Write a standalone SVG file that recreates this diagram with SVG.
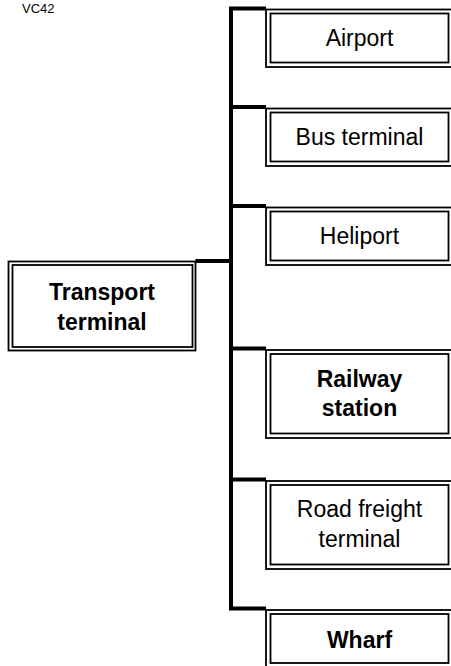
<svg xmlns="http://www.w3.org/2000/svg" width="451" height="666" viewBox="0 0 451 666">
<style>
.conn{fill:none;stroke:#000;stroke-width:4;stroke-linejoin:miter;stroke-linecap:butt}
.outer{fill:#fff;stroke:#000;stroke-width:1.8}
.inner{fill:none;stroke:#000;stroke-width:1.8}
.t{font-family:"Liberation Sans",Arial,sans-serif;font-size:23px;fill:#000;text-anchor:middle}
.b{font-weight:bold}
.code{font-family:"Liberation Sans",Arial,sans-serif;font-size:13px;fill:#000}
</style>
<rect width="451" height="666" fill="#fff"/>
<text class="code" x="22" y="13">VC42</text>
<g id="connectors">
<path class="conn" d="M266,8.5 H231 V608.5 H266 M231,107 H266 M231,206 H266 M231,348.5 H266 M231,479.5 H266 M195.5,261 H231"/>
</g>
<g id="transport-terminal">
<rect class="outer" x="8.5" y="261.5" width="187" height="89"/>
<rect class="inner" x="12.5" y="265" width="180" height="82"/>
<text class="t b" x="102" y="300">Transport</text>
<text class="t b" x="102" y="330">terminal</text>
</g>
<g id="airport">
<rect class="outer" x="266" y="9.5" width="186" height="57.5"/>
<rect class="inner" x="270.5" y="13.5" width="178" height="49"/>
<text class="t" x="359.5" y="46.3">Airport</text>
</g>
<g id="bus-terminal">
<rect class="outer" x="266" y="108.5" width="186" height="57.5"/>
<rect class="inner" x="270.5" y="112.5" width="178" height="49"/>
<text class="t" x="359.5" y="145">Bus terminal</text>
</g>
<g id="heliport">
<rect class="outer" x="266" y="207.5" width="186" height="57.5"/>
<rect class="inner" x="270.5" y="211.5" width="178" height="49"/>
<text class="t" x="359.5" y="244">Heliport</text>
</g>
<g id="railway-station">
<rect class="outer" x="266" y="350" width="186" height="88"/>
<rect class="inner" x="270.5" y="354" width="178" height="79.5"/>
<text class="t b" x="359.5" y="386.5">Railway</text>
<text class="t b" x="359.5" y="416">station</text>
</g>
<g id="road-freight-terminal">
<rect class="outer" x="266" y="481" width="186" height="88"/>
<rect class="inner" x="270.5" y="485" width="178" height="79.5"/>
<text class="t" x="359.5" y="516.5">Road freight</text>
<text class="t" x="359.5" y="546.5">terminal</text>
</g>
<g id="wharf">
<rect class="outer" x="266" y="610" width="186" height="58"/>
<rect class="inner" x="270.5" y="614" width="178" height="49"/>
<text class="t b" x="359.5" y="648">Wharf</text>
</g>
</svg>
